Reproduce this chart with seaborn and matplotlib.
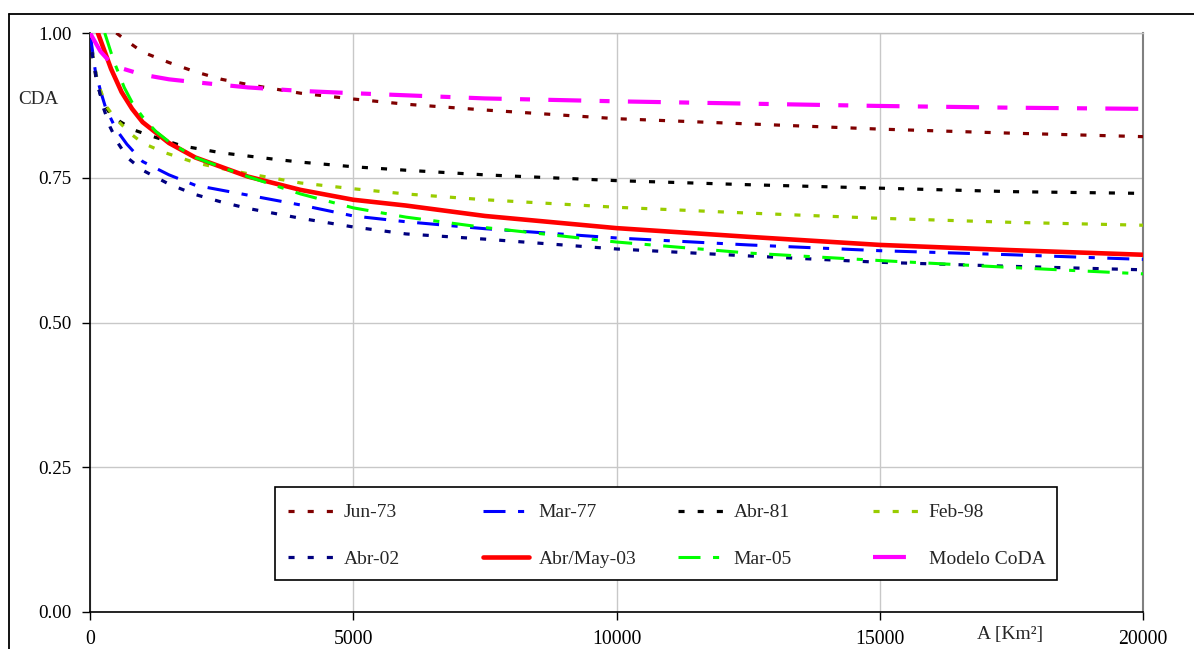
import matplotlib
matplotlib.use("Agg")
import matplotlib.pyplot as plt
import seaborn as sns
import pandas as pd
from matplotlib.lines import Line2D
from matplotlib.patches import Rectangle

# Areal reduction curves: CDA versus catchment area A [km²]
area_jun73 = [500, 750, 1000, 1500, 2000, 2500, 3000, 4000, 5000, 6000, 7500, 10000, 12500, 15000, 17500, 20000]
cda_jun73 = [1.0, 0.983, 0.967, 0.949, 0.933, 0.920, 0.911, 0.896, 0.886, 0.877, 0.867, 0.852, 0.843, 0.834, 0.827, 0.821]

area_mar77 = [0, 100, 200, 300, 500, 700, 1000, 1500, 2000, 3000, 4000, 5000, 6000, 7500, 10000, 12500, 15000, 17500, 20000]
cda_mar77 = [1.0, 0.935, 0.900, 0.870, 0.833, 0.808, 0.778, 0.755, 0.737, 0.720, 0.703, 0.684, 0.674, 0.662, 0.646, 0.634, 0.624, 0.617, 0.609]

area_abr81 = [0, 30, 130, 250, 380, 570, 850, 1100, 1750, 2500, 3500, 4000, 5000, 6000, 7500, 10000, 12500, 15000, 17500, 20000]
cda_abr81 = [1.0, 0.971, 0.913, 0.879, 0.861, 0.847, 0.832, 0.824, 0.805, 0.793, 0.782, 0.777, 0.769, 0.763, 0.755, 0.745, 0.738, 0.732, 0.726, 0.723]

area_feb98 = [0, 60, 150, 320, 475, 800, 1000, 1400, 2000, 2500, 3000, 4000, 5000, 6000, 7500, 10000, 12500, 15000, 17500, 20000]
cda_feb98 = [1.0, 0.957, 0.913, 0.872, 0.853, 0.824, 0.810, 0.794, 0.776, 0.766, 0.757, 0.741, 0.731, 0.722, 0.712, 0.699, 0.689, 0.680, 0.673, 0.668]

area_abr02 = [0, 50, 130, 250, 380, 530, 720, 1000, 1500, 2000, 2500, 3000, 4000, 5000, 6000, 7500, 10000, 12500, 15000, 17500, 20000]
cda_abr02 = [1.0, 0.960, 0.919, 0.872, 0.838, 0.810, 0.784, 0.763, 0.739, 0.721, 0.708, 0.697, 0.680, 0.665, 0.653, 0.644, 0.627, 0.615, 0.604, 0.597, 0.591]

area_abrmay03 = [150, 400, 600, 800, 1000, 1500, 2000, 3000, 4000, 5000, 6000, 7500, 10000, 12500, 15000, 17500, 20000]
cda_abrmay03 = [1.0, 0.938, 0.898, 0.869, 0.846, 0.810, 0.785, 0.752, 0.729, 0.712, 0.702, 0.684, 0.663, 0.648, 0.634, 0.625, 0.617]

area_mar05 = [280, 450, 650, 800, 1000, 1250, 1500, 2000, 2500, 3000, 4000, 5000, 6000, 7500, 10000, 12500, 15000, 17500, 20000]
cda_mar05 = [1.0, 0.952, 0.906, 0.880, 0.855, 0.830, 0.812, 0.785, 0.768, 0.752, 0.722, 0.698, 0.682, 0.664, 0.639, 0.620, 0.607, 0.595, 0.584]

area_coda = [0, 200, 400, 600, 1000, 1500, 2000, 3000, 4000, 5000, 7500, 10000, 12500, 15000, 17500, 20000]
cda_coda = [1.0, 0.968, 0.948, 0.939, 0.928, 0.920, 0.915, 0.906, 0.900, 0.896, 0.887, 0.882, 0.878, 0.874, 0.871, 0.869]

x_ticks = [0, 5000, 10000, 15000, 20000]
y_ticks = [0.00, 0.25, 0.50, 0.75, 1.00]

DOT = (0, (1.9, 4.1))
DASHDOT = (0, (7.2, 4.1, 2.0, 4.1))
LONGDASHDOT = (0, (7.9, 4.4, 2.4, 4.4))

series = [
    ("Jun-73", area_jun73, cda_jun73, "#800000", 2.3, DOT),
    ("Mar-77", area_mar77, cda_mar77, "#0000FF", 2.2, DASHDOT),
    ("Abr-81", area_abr81, cda_abr81, "#000000", 2.3, DOT),
    ("Feb-98", area_feb98, cda_feb98, "#99CC00", 2.3, DOT),
    ("Abr-02", area_abr02, cda_abr02, "#000080", 2.3, DOT),
    ("Abr/May-03", area_abrmay03, cda_abrmay03, "#FF0000", 3.3, "-"),
    ("Mar-05", area_mar05, cda_mar05, "#00FF00", 2.2, DASHDOT),
    ("Modelo CoDA", area_coda, cda_coda, "#FF00FF", 3.0, LONGDASHDOT),
]

sns.set_style("white")
plt.rcParams["font.family"] = ["Liberation Serif", "DejaVu Serif"]

W, H = 1194, 649
fig = plt.figure(figsize=(W / 100, H / 100), dpi=100)
ax = fig.add_axes([90 / W, 1 - 612 / H, (1143 - 90) / W, (612 - 33) / H])

for i, (label, a, c, color, lw, ls) in enumerate(series):
    df = pd.DataFrame({"A": a, "CDA": c})
    sns.lineplot(data=df, x="A", y="CDA", ax=ax, color=color, linewidth=lw,
                 linestyle=ls, label=label, estimator=None, sort=False,
                 zorder=3 + i)

ax.set_xlim(0, 20000)
ax.set_ylim(0, 1.0)
ax.set_xticks(x_ticks)
ax.set_yticks(y_ticks)
ax.set_xticklabels([f"{v:d}" for v in x_ticks])
ax.set_yticklabels([f"{v:.2f}" for v in y_ticks])
ax.grid(True, color="#C8C8C8", linewidth=1.0)
ax.set_axisbelow(True)

for side in ("left", "bottom"):
    ax.spines[side].set_color("black")
    ax.spines[side].set_linewidth(1.2)
ax.spines["top"].set_color("#C0C0C0")
ax.spines["right"].set_color("#808080")
ax.spines["top"].set_linewidth(1.0)
ax.spines["right"].set_linewidth(1.5)

ax.tick_params(axis="both", direction="out", length=6, width=1.0, colors="black",
               left=True, bottom=True)
ax.tick_params(axis="y", pad=7, labelsize=13.8)
ax.tick_params(axis="x", pad=7, labelsize=14.2)

ax.set_ylabel("CDA", rotation=0, fontsize=13.8, ha="left", va="center")
ax.yaxis.set_label_coords((18 - 90) / (1143 - 90), (612 - 100) / (612 - 33))
ax.set_xlabel("A [Km²]", fontsize=14, ha="center", va="center")
ax.xaxis.set_label_coords((1010 - 90) / (1143 - 90), (612 - 635) / (612 - 33))

handles, labels = ax.get_legend_handles_labels()
ax.get_legend().remove()

# Framed legend area with four columns of two entries
fig.add_artist(Rectangle((275 / W, 1 - 580 / H), (1057 - 275) / W, (580 - 487) / H,
                         transform=fig.transFigure, facecolor="white",
                         edgecolor="black", linewidth=1.2, zorder=2))
col_x = [288, 483, 678, 873]
for k, x0 in enumerate(col_x):
    h = [handles[k], handles[k + 4]]
    l = [labels[k], labels[k + 4]]
    fig.legend(h, l, loc="center left", bbox_to_anchor=(x0 / W, 1 - 536 / H),
               bbox_transform=fig.transFigure, frameon=False, borderpad=0,
               borderaxespad=0, handlelength=2.37, handletextpad=0.5,
               labelspacing=1.5, fontsize=14)

# Outer chart border (top and left edges)
fig.add_artist(Line2D([9 / W, 1.0], [1 - 14 / H, 1 - 14 / H], color="black",
                      linewidth=1.3, transform=fig.transFigure))
fig.add_artist(Line2D([9 / W, 9 / W], [0.0, 1 - 14 / H], color="black",
                      linewidth=1.3, transform=fig.transFigure))

fig.savefig("out.png", dpi=100)
